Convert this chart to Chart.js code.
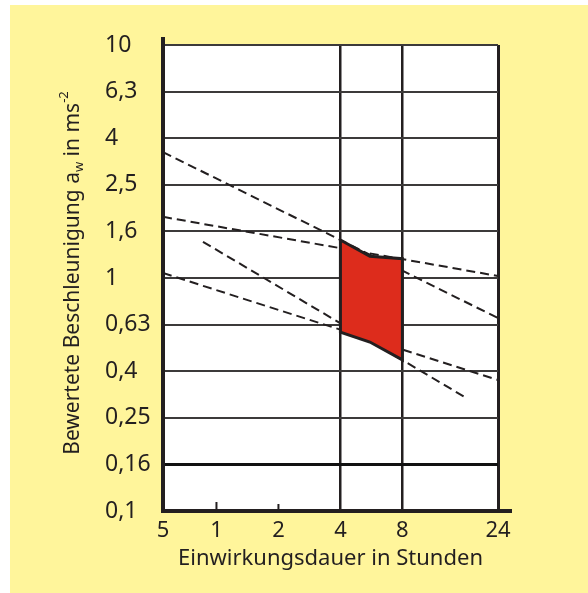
<!DOCTYPE html>
<html>
<head>
<meta charset="utf-8">
<script src="https://cdn.jsdelivr.net/npm/chart.js@4.4.0/dist/chart.umd.min.js"></script>
<style>
body { margin: 0; background: #fff; }
#box { position: absolute; left: 10px; top: 5px; width: 578px; height: 588px; background: #FFF59B; }
</style>
</head>
<body>
<div id="box"><canvas id="c" width="578" height="588"></canvas></div>
<script>
// Achsen
var xTicks = [0.55, 1, 2, 4, 8, 23.3];
var xLabels = ['5', '1', '2', '4', '8', '24'];
var yTicks = [0.1, 0.158, 0.251, 0.398, 0.631, 1, 1.585, 2.512, 3.981, 6.31, 10];
var yLabels = ['0,1', '0,16', '0,25', '0,4', '0,63', '1', '1,6', '2,5', '4', '6,3', '10'];

// gestrichelte Linien (Stunden, m/s2)
var lineAx = [0.55, 23.3];
var lineAy = [3.47, 0.673];
var lineBx = [0.55, 23.3];
var lineBy = [1.83, 1.02];
var lineCx = [0.86, 16.1];
var lineCy = [1.43, 0.308];
var lineDx = [0.55, 23.3];
var lineDy = [1.05, 0.365];

// rotes Feld
var zoneX = [4, 5.56, 8, 8, 5.56, 4, 4];
var zoneY = [1.455, 1.24, 1.21, 0.445, 0.531, 0.586, 1.455];

// kleine Striche an der x-Achse
var markX = [1, 2];
var markLen = [9, 7];

var ink = '#231F20';
var font = 'Noto Sans';
Chart.defaults.font.family = font;
Chart.defaults.color = ink;

function pts(xs, ys) {
    var out = [];
    for (var i = 0; i < xs.length; i++) out.push({ x: xs[i], y: ys[i] });
    return out;
}

function dashed(xs, ys) {
    return {
        data: pts(xs, ys),
        borderColor: ink,
        borderWidth: 2,
        borderDash: [9, 5],
        pointRadius: 0,
        fill: false,
        tension: 0
    };
}

var decor = {
    id: 'decor',
    beforeDraw: function (chart) {
        var a = chart.chartArea, ctx = chart.ctx;
        ctx.save();
        ctx.fillStyle = '#fff';
        ctx.fillRect(a.left, a.top, a.right - a.left, a.bottom - a.top);
        ctx.restore();
    },
    afterDraw: function (chart) {
        var a = chart.chartArea, ctx = chart.ctx;
        var xs = chart.scales.x;
        ctx.save();
        ctx.strokeStyle = ink;
        // Striche bei 1 und 2
        ctx.lineWidth = 2;
        for (var i = 0; i < markX.length; i++) {
            var px = xs.getPixelForValue(markX[i]);
            ctx.beginPath();
            ctx.moveTo(px, a.bottom);
            ctx.lineTo(px, a.bottom - markLen[i]);
            ctx.stroke();
        }
        // Achsen etwas verlaengert
        ctx.lineWidth = 4;
        ctx.beginPath();
        ctx.moveTo(a.left, a.top);
        ctx.lineTo(a.left, a.top - 8);
        ctx.moveTo(a.right, a.bottom);
        ctx.lineTo(a.right + 14, a.bottom);
        ctx.stroke();

        // y-Titel mit Index und Exponent
        var big = '21px "' + font + '"', small = '13px "' + font + '"';
        var parts = [
            { t: 'Bewertete Beschleunigung a', f: big, dy: 0 },
            { t: 'w', f: small, dy: 6 },
            { t: ' in ms', f: big, dy: 0 },
            { t: '-2', f: small, dy: -9 }
        ];
        var total = 0;
        parts.forEach(function (p) { ctx.font = p.f; p.w = ctx.measureText(p.t).width; total += p.w; });
        ctx.translate(63, 268);
        ctx.rotate(-Math.PI / 2);
        ctx.fillStyle = ink;
        ctx.textBaseline = 'middle';
        var x = -total / 2;
        parts.forEach(function (p) {
            ctx.font = p.f;
            ctx.fillText(p.t, x, p.dy);
            x += p.w;
        });
        ctx.restore();
    }
};

var zone = {
    data: pts(zoneX, zoneY),
    borderColor: ink,
    borderWidth: 3,
    backgroundColor: '#DD2C1C',
    pointRadius: 0,
    fill: 'shape',
    tension: 0
};

new Chart(document.getElementById('c').getContext('2d'), {
    type: 'line',
    data: {
        datasets: [zone, dashed(lineAx, lineAy), dashed(lineBx, lineBy), dashed(lineCx, lineCy), dashed(lineDx, lineDy)]
    },
    options: {
        responsive: false,
        animation: false,
        layout: { padding: { left: 95, top: 40, right: 90, bottom: 0 } },
        plugins: {
            legend: { display: false },
            tooltip: { enabled: false },
            filler: { drawTime: 'beforeDatasetDraw' }
        },
        scales: {
            x: {
                type: 'logarithmic',
                min: xTicks[0],
                max: xTicks[xTicks.length - 1],
                afterFit: function (s) { s.height = 82; },
                afterBuildTicks: function (s) { s.ticks = xTicks.map(function (v) { return { value: v }; }); },
                ticks: {
                    autoSkip: false,
                    maxRotation: 0,
                    padding: 7,
                    font: { size: 22 },
                    callback: function (v, i) { return xLabels[i]; }
                },
                grid: {
                    drawTicks: false,
                    color: function (c) {
                        var v = c.tick ? c.tick.value : 0;
                        return (v == 4 || v == 8 || v == xTicks[xTicks.length - 1]) ? ink : 'rgba(0,0,0,0)';
                    },
                    lineWidth: function (c) {
                        var v = c.tick ? c.tick.value : 0;
                        return v == xTicks[xTicks.length - 1] ? 3 : 2.5;
                    }
                },
                border: { color: ink, width: 4 },
                title: {
                    display: true,
                    text: 'Einwirkungsdauer in Stunden',
                    font: { size: 22 },
                    padding: { top: 0, bottom: 21 }
                }
            },
            y: {
                type: 'logarithmic',
                min: yTicks[0],
                max: yTicks[yTicks.length - 1],
                afterFit: function (s) { s.width = 58; },
                afterBuildTicks: function (s) { s.ticks = yTicks.map(function (v) { return { value: v }; }); },
                ticks: {
                    autoSkip: false,
                    crossAlign: 'far',
                    padding: 0,
                    font: { size: 23 },
                    callback: function (v, i) { return yLabels[i]; }
                },
                grid: {
                    drawTicks: false,
                    color: function (c) {
                        var v = c.tick ? c.tick.value : 0;
                        if (v == yTicks[0]) return 'rgba(0,0,0,0)';
                        return v == yTicks[1] ? '#111' : '#3c3a3a';
                    },
                    lineWidth: function (c) {
                        var v = c.tick ? c.tick.value : 0;
                        return v == yTicks[1] ? 3 : 2;
                    }
                },
                border: { color: ink, width: 4 }
            }
        }
    },
    plugins: [decor]
});
</script>
</body>
</html>
